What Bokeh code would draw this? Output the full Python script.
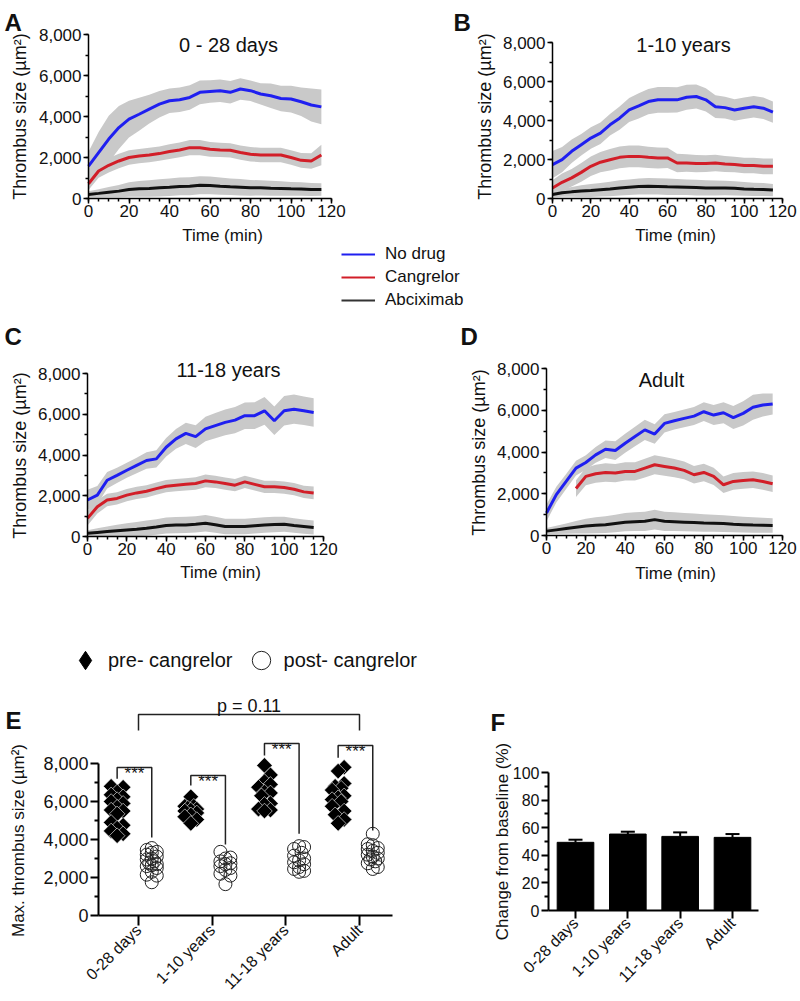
import numpy as np
from math import pi
from bokeh.plotting import figure
from bokeh.models import (Range1d, SingleIntervalTicker, FixedTicker, NumeralTickFormatter,
                          Label, Legend, LegendItem, Whisker, TeeHead, ColumnDataSource)
from bokeh.core.properties import value
from bokeh.layouts import row, column
from bokeh.embed import file_html
from bokeh.resources import INLINE

FONT = "Liberation Sans"
BLUE = "#1f1ff0"
RED = "#d21e28"
BLACK = "#111111"
BAND = "#c9c9c9"
TXT = "#111111"
nan = float("nan")

# ---------------- data: panels A-D (time courses, µm²) ----------------
time_min = [0, 5, 10, 15, 20, 25, 30, 35, 40, 45, 50, 55, 60, 65, 70, 75, 80, 85, 90, 95, 100, 105, 110, 115]
series_names = ["No drug", "Cangrelor", "Abciximab"]
panel_titles = ["0 - 28 days", "1-10 years", "11-18 years", "Adult"]

a_nodrug = [1580, 2240, 2900, 3460, 3870, 4110, 4360, 4600, 4770, 4820, 4930, 5180, 5220, 5260, 5180, 5340, 5260, 5100, 5010, 4880, 4850, 4720, 4560, 4470]
a_nodrug_sd = [700, 1000, 1140, 1050, 900, 800, 700, 650, 600, 600, 600, 580, 550, 550, 550, 520, 500, 520, 600, 620, 650, 700, 800, 850]
a_cang = [720, 1340, 1620, 1830, 2000, 2070, 2120, 2190, 2290, 2370, 2480, 2480, 2400, 2370, 2350, 2240, 2160, 2120, 2120, 2120, 2000, 1860, 1830, 2120]
a_cang_sd = [300, 330, 350, 350, 350, 350, 350, 350, 360, 360, 370, 370, 360, 350, 350, 350, 350, 350, 350, 350, 350, 360, 380, 500]
a_abci = [200, 250, 310, 360, 440, 470, 490, 520, 550, 590, 600, 650, 640, 600, 570, 550, 520, 520, 500, 490, 470, 460, 440, 440]
a_abci_sd = [150, 200, 250, 300, 350, 380, 400, 420, 430, 430, 440, 440, 430, 420, 400, 400, 380, 370, 360, 350, 340, 330, 320, 300]

b_nodrug = [1740, 1990, 2420, 2760, 3100, 3350, 3780, 4120, 4540, 4750, 4970, 5060, 5060, 5060, 5190, 5230, 5060, 4710, 4660, 4540, 4630, 4710, 4630, 4430]
b_nodrug_sd = [700, 650, 600, 550, 550, 550, 550, 600, 620, 650, 650, 660, 660, 650, 640, 620, 600, 580, 560, 550, 550, 550, 550, 550]
b_cang = [540, 830, 1060, 1340, 1650, 1860, 1990, 2110, 2160, 2160, 2110, 2080, 2080, 1820, 1820, 1790, 1790, 1820, 1770, 1740, 1690, 1690, 1650, 1650]
b_cang_sd = [400, 450, 450, 480, 500, 520, 550, 560, 560, 560, 550, 540, 520, 480, 450, 440, 430, 420, 410, 400, 400, 400, 400, 400]
b_abci = [200, 290, 340, 380, 410, 450, 490, 540, 580, 610, 630, 620, 600, 590, 580, 560, 540, 540, 540, 520, 490, 470, 460, 430]
b_abci_sd = [150, 200, 250, 300, 330, 350, 370, 390, 400, 410, 420, 420, 420, 410, 400, 400, 390, 380, 370, 360, 350, 340, 330, 320]

c_nodrug = [1790, 2030, 2760, 3000, 3250, 3490, 3730, 3810, 4380, 4790, 5060, 4900, 5280, 5440, 5600, 5710, 5930, 5930, 6170, 5680, 6170, 6250, 6170, 6090]
c_nodrug_sd = [500, 450, 400, 380, 370, 380, 400, 420, 450, 480, 520, 560, 600, 620, 630, 640, 650, 660, 680, 700, 720, 720, 700, 700]
c_cang = [890, 1460, 1790, 1870, 2030, 2140, 2220, 2350, 2470, 2520, 2560, 2600, 2730, 2680, 2600, 2520, 2680, 2560, 2440, 2440, 2400, 2320, 2190, 2140]
c_cang_sd = [350, 330, 310, 300, 300, 300, 300, 300, 300, 300, 300, 310, 310, 300, 300, 300, 300, 300, 300, 300, 300, 300, 300, 310]
c_abci = [160, 200, 240, 280, 320, 360, 410, 470, 540, 560, 570, 600, 650, 580, 490, 490, 490, 530, 570, 590, 600, 540, 490, 440]
c_abci_sd = [150, 200, 250, 300, 330, 350, 370, 380, 390, 400, 400, 400, 400, 390, 380, 380, 380, 380, 380, 380, 370, 360, 350, 340]

d_nodrug = [1080, 1960, 2590, 3230, 3500, 3860, 4130, 4070, 4420, 4740, 5060, 4860, 5370, 5500, 5610, 5720, 5930, 5770, 5880, 5650, 5850, 6140, 6250, 6300]
d_nodrug_sd = [400, 380, 360, 350, 350, 380, 420, 450, 460, 470, 480, 470, 440, 420, 420, 430, 450, 480, 500, 550, 580, 600, 550, 500]
d_cang = [nan, nan, nan, 2250, 2830, 2960, 3020, 2990, 3070, 3070, 3230, 3390, 3310, 3230, 3120, 2910, 3020, 2830, 2430, 2590, 2640, 2670, 2590, 2480]
d_cang_sd = [nan, nan, nan, 400, 420, 430, 440, 440, 440, 440, 450, 460, 450, 440, 430, 420, 420, 410, 400, 400, 400, 400, 400, 400]
d_abci = [210, 270, 330, 390, 450, 490, 520, 580, 640, 660, 680, 760, 680, 660, 640, 620, 600, 590, 570, 540, 520, 500, 490, 480]
d_abci_sd = [150, 200, 250, 300, 350, 380, 400, 420, 440, 450, 460, 470, 460, 450, 440, 430, 420, 410, 400, 390, 380, 370, 360, 350]

# ---------------- data: panel E ----------------
age_groups = ["0-28 days", "1-10 years", "11-18 years", "Adult"]
pre_cangrelor = [
    [6800, 6750, 6500, 6350, 6250, 6100, 6000, 5900, 5700, 5550, 5500, 5350, 4900, 4750, 4600, 4450, 4300, 4200],
    [6250, 5750, 5750, 5650, 5600, 5550, 5500, 5400, 5300, 5200, 5050, 4850],
    [7900, 7400, 7050, 6900, 6750, 6500, 6450, 6300, 5900, 5850, 5600, 5550, 5500],
    [7800, 7600, 6950, 6800, 6700, 6600, 6300, 6200, 6100, 6000, 5750, 5500, 5300, 5050, 4850],
]
post_cangrelor = [
    [3550, 3450, 3350, 3300, 3200, 3100, 3000, 2950, 2850, 2750, 2700, 2650, 2600, 2500, 2300, 2150, 2100, 1750],
    [3350, 3050, 3000, 2850, 2750, 2700, 2600, 2500, 2400, 2200, 2100, 1650],
    [3650, 3600, 3500, 3300, 3150, 3000, 2900, 2800, 2700, 2550, 2450, 2350, 2300],
    [4300, 3750, 3700, 3550, 3500, 3400, 3300, 3200, 3100, 3000, 2950, 2850, 2750, 2550, 2450],
]
sig_text = ["***", "***", "***", "***"]
sig_top = [7790, 7370, 9050, 8950]
sig_pre_end = [7200, 6840, 8420, 8300]
sig_post_end = [4100, 3740, 4300, 4470]
overall_text = "p = 0.11"
overall_top = 10580
overall_end = 9740

# ---------------- data: panel F ----------------
change_mean = [49.4, 55.4, 53.7, 53.0]
change_sem = [1.9, 1.7, 2.9, 2.4]


# ---------------- helpers ----------------
def frame_ranges(box, xmap, ymap):
    """box: canvas (left, top, right, bottom) in page px; xmap/ymap: (d0, p0, d1, p1)."""
    L, T, R, B = box
    d0, p0, d1, p1 = xmap
    kx = (d1 - d0) / (p1 - p0)
    e0, q0, e1, q1 = ymap
    ky = (e1 - e0) / (q1 - q0)
    return (Range1d(d0 + (L - p0) * kx, d0 + (R - p0) * kx),
            Range1d(e0 + (B - q0) * ky, e0 + (T - q0) * ky))


def make_fig(box, xmap, ymap):
    L, T, R, B = box
    xr, yr = frame_ranges(box, xmap, ymap)
    p = figure(width=R - L, height=B - T, x_range=xr, y_range=yr, min_border=0,
               output_backend="svg", toolbar_location=None)
    p.title.visible = False
    p.outline_line_color = None
    p.xgrid.visible = False
    p.ygrid.visible = False
    return p


def put_text(p, box, x, y, text, size, style="normal", align="left", baseline="alphabetic", angle=0.0):
    L, T, R, B = box
    p.add_layout(Label(x=x - L, y=B - y, x_units="screen", y_units="screen", text=text,
                       angle=angle, text_font=FONT, text_font_size=size, text_font_style=style,
                       text_align=align, text_baseline=baseline, text_color=TXT))


def style_axes(p, tick_px, lw):
    for ax in (p.xaxis[0], p.yaxis[0]):
        ax.axis_line_width = lw
        ax.axis_line_color = "black"
        ax.major_tick_line_width = lw
        ax.minor_tick_line_width = lw
        ax.major_tick_line_color = "black"
        ax.minor_tick_line_color = "black"
        ax.major_tick_in = 0
        ax.minor_tick_in = 0
        ax.major_tick_out = 5
        ax.minor_tick_out = 3
        ax.major_label_text_font = FONT
        ax.major_label_text_font_size = tick_px
        ax.major_label_text_color = TXT


def time_panel(box, xmap, ymap, series, title, title_xy, letter, letter_xy, ylab_xy, xlab_xy):
    p = make_fig(box, xmap, ymap)
    t = np.array(time_min, float)
    for mean, sd, color in series:
        m = np.array(mean, float)
        s = np.array(sd, float)
        ok = ~np.isnan(m)
        p.varea(x=t[ok], y1=np.maximum(m - s, 0)[ok], y2=(m + s)[ok], fill_color=BAND)
    for mean, sd, color in series:
        p.line(x=t, y=np.array(mean, float), line_color=color, line_width=3)
    style_axes(p, "17px", 1.5)
    xa, ya = p.xaxis[0], p.yaxis[0]
    xa.fixed_location = 0
    ya.fixed_location = 0
    xa.bounds = (0, 120)
    ya.bounds = (0, 8000)
    xa.ticker = SingleIntervalTicker(interval=20, num_minor_ticks=4)
    ya.ticker = SingleIntervalTicker(interval=2000, num_minor_ticks=2)
    ya.formatter = NumeralTickFormatter(format="0,0")
    xa.major_label_standoff = 1
    ya.major_label_standoff = 2
    put_text(p, box, title_xy[0], title_xy[1], title, "20px", align="center")
    put_text(p, box, letter_xy[0], letter_xy[1], letter, "24px", style="bold")
    put_text(p, box, ylab_xy[0], ylab_xy[1], "Thrombus size (µm²)", "18px",
             align="center", baseline="middle", angle=pi / 2)
    put_text(p, box, xlab_xy[0], xlab_xy[1], "Time (min)", "17px", align="center", baseline="middle")
    return p


BOX_A = (0, 0, 400, 244)
BOX_B = (400, 0, 798, 244)
BOX_L = (0, 244, 798, 312)
BOX_C = (0, 312, 400, 582)
BOX_D = (400, 312, 798, 582)
BOX_E = (0, 582, 440, 999)
BOX_F = (440, 582, 798, 999)

pA = time_panel(BOX_A, (0, 88, 120, 331), (0, 198, 8000, 34),
                [(a_nodrug, a_nodrug_sd, BLUE), (a_cang, a_cang_sd, RED), (a_abci, a_abci_sd, BLACK)],
                panel_titles[0], (228, 44), "A", (4, 22), (19, 116), (222, 235))
pB = time_panel(BOX_B, (0, 552, 120, 782), (0, 198, 8000, 42),
                [(b_nodrug, b_nodrug_sd, BLUE), (b_cang, b_cang_sd, RED), (b_abci, b_abci_sd, BLACK)],
                panel_titles[1], (683, 44), "B", (453, 22), (484, 116), (675, 235))
pC = time_panel(BOX_C, (0, 87, 120, 323), (0, 536, 8000, 373),
                [(c_nodrug, c_nodrug_sd, BLUE), (c_cang, c_cang_sd, RED), (c_abci, c_abci_sd, BLACK)],
                panel_titles[2], (228, 369), "C", (4, 336), (19, 455), (220, 572))
pD = time_panel(BOX_D, (0, 546, 120, 782), (0, 535, 8000, 368),
                [(d_nodrug, d_nodrug_sd, BLUE), (d_cang, d_cang_sd, RED), (d_abci, d_abci_sd, BLACK)],
                panel_titles[3], (661, 379), "D", (460, 336), (478, 452), (675, 573))

# ---------------- legend strip ----------------
lf = make_fig(BOX_L, (0, 0, 1, 798), (0, 312, 1, 244))
lf.xaxis.visible = False
lf.yaxis.visible = False
leg_items = []
for name, color in zip(series_names, [BLUE, RED, "#333333"]):
    r = lf.line(x=[nan], y=[nan], line_color=color, line_width=2)
    leg_items.append(LegendItem(label=name, renderers=[r]))
lf.add_layout(Legend(items=leg_items, location=(341, 2), orientation="vertical",
                     glyph_width=34, glyph_height=20, label_height=20, label_standoff=10,
                     spacing=3, padding=0, margin=0, border_line_alpha=0, background_fill_alpha=0,
                     label_text_font=FONT, label_text_font_size="17px", label_text_color=TXT))

# ---------------- panel E ----------------
E_XMAP = (1, 138, 4, 359)
E_YMAP = (0, 915, 8000, 763)
pE = make_fig(BOX_E, E_XMAP, E_YMAP)
E_PX_X = (359 - 138) / 3.0
E_PX_Y = (915 - 763) / 8000.0
E_X0 = 1 + (98 - 138) / E_PX_X
E_X1 = 1 + (392 - 138) / E_PX_X


def swarm(vals, diam=8.0, step=3.0, max_off=6.0):
    vals = np.asarray(vals, float)
    order = np.argsort(vals)
    cands = [0.0]
    j = 1
    while j * step <= max_off + 1e-9:
        cands += [j * step, -j * step]
        j += 1
    placed = []
    offs = np.zeros(len(vals))
    for i in order:
        ypx = vals[i] * E_PX_Y
        best, best_d = 0.0, -1.0
        for c in cands:
            d = min([np.hypot(c - qx, ypx - qy) for qx, qy in placed], default=1e9)
            if d >= diam:
                best = c
                break
            if d > best_d:
                best, best_d = c, d
        placed.append((best, ypx))
        offs[i] = best / E_PX_X
    return offs


PRE_OFF, POST_OFF = -0.29, 0.18
pre_x, pre_y, post_x, post_y = [], [], [], []
for gi in range(len(age_groups)):
    pre_x += list(gi + 1 + PRE_OFF + swarm(pre_cangrelor[gi], diam=9.0, step=3.0, max_off=6.0))
    pre_y += list(pre_cangrelor[gi])
    post_x += list(gi + 1 + POST_OFF + swarm(post_cangrelor[gi], diam=9.0, step=2.5, max_off=5.0))
    post_y += list(post_cangrelor[gi])

r_pre = pE.scatter(pre_x, pre_y, marker="square", angle=pi / 4, size=11,
                   fill_color="black", line_color="white", line_width=0.6)
r_post = pE.scatter(post_x, post_y, marker="circle", size=13, fill_alpha=0,
                    line_color="#222222", line_width=1)
r_pre_key = pE.scatter(x=[nan], y=[nan], marker="diamond", fill_color="black", line_color="black")

br_xs, br_ys, st_x, st_y = [], [], [], []
for gi in range(len(age_groups)):
    xl, xr = gi + 1 + PRE_OFF, gi + 1 + POST_OFF
    br_xs.append([xl, xl, xr, xr])
    br_ys.append([sig_pre_end[gi], sig_top[gi], sig_top[gi], sig_post_end[gi]])
    st_x.append((xl + xr) / 2)
    st_y.append(sig_top[gi])
br_xs.append([1, 1, 4, 4])
br_ys.append([overall_end, overall_top, overall_top, overall_end])
pE.multi_line(br_xs, br_ys, line_color="#222222", line_width=1.5)
pE.text(st_x, st_y, text=sig_text, text_font=value(FONT), text_font_size="17px",
        text_align="center", text_baseline="alphabetic", y_offset=6, text_color=TXT)
pE.add_layout(Label(x=2.5, y=overall_top, text=overall_text, text_font=FONT, text_font_size="18px",
                    text_align="center", text_baseline="alphabetic", y_offset=8, text_color=TXT))

style_axes(pE, "18px", 2)
exa, eya = pE.xaxis[0], pE.yaxis[0]
exa.fixed_location = 0
eya.fixed_location = E_X0
exa.bounds = (E_X0, E_X1)
eya.bounds = (0, 8000)
exa.ticker = FixedTicker(ticks=[1, 2, 3, 4], minor_ticks=[])
exa.major_label_overrides = {i + 1: g for i, g in enumerate(age_groups)}
exa.major_label_orientation = pi / 4
exa.major_label_text_font_size = "16px"
exa.major_tick_out = 10
exa.major_label_standoff = 2
eya.ticker = FixedTicker(ticks=[0, 2000, 4000, 6000, 8000], minor_ticks=[1000, 3000, 5000, 7000])
eya.formatter = NumeralTickFormatter(format="0,0")
eya.major_tick_out = 8
eya.minor_tick_out = 4
eya.major_label_standoff = 2
put_text(pE, BOX_E, 18, 840, "Max. thrombus size (µm²)", "17px", align="center",
         baseline="middle", angle=pi / 2)
put_text(pE, BOX_E, 5, 720, "E", "24px", style="bold")
pE.add_layout(Legend(items=[LegendItem(label="pre- cangrelor", renderers=[r_pre_key]),
                            LegendItem(label="post- cangrelor", renderers=[r_post])],
                     location=(62, 999 - 683), orientation="horizontal",
                     glyph_width=46, glyph_height=46, label_standoff=-3, spacing=5,
                     padding=0, margin=0, border_line_alpha=0, background_fill_alpha=0,
                     label_text_font=FONT, label_text_font_size="20px", label_text_color=TXT))

# ---------------- panel F ----------------
F_XMAP = (1, 575, 4, 732)
F_YMAP = (0, 910, 100, 772)
pF = make_fig(BOX_F, F_XMAP, F_YMAP)
F_PX_X = (732 - 575) / 3.0
F_X0 = 1 + (548 - 575) / F_PX_X
F_X1 = 1 + (758 - 575) / F_PX_X
fx = [1, 2, 3, 4]
fsrc = ColumnDataSource(dict(x=fx, top=change_mean,
                             upper=[m + s for m, s in zip(change_mean, change_sem)]))
pF.vbar(x="x", top="top", width=0.7, source=fsrc, fill_color="black", line_color="black")
pF.add_layout(Whisker(source=fsrc, base="x", upper="upper", lower="top", dimension="height",
                      line_color="black", line_width=2, lower_head=None,
                      upper_head=TeeHead(size=14, line_width=2, line_color="black")))
style_axes(pF, "16px", 2)
fxa, fya = pF.xaxis[0], pF.yaxis[0]
fxa.fixed_location = 0
fya.fixed_location = F_X0
fxa.bounds = (F_X0, F_X1)
fya.bounds = (0, 100)
fxa.ticker = FixedTicker(ticks=fx, minor_ticks=[])
fxa.major_label_overrides = {i + 1: g for i, g in enumerate(age_groups)}
fxa.major_label_orientation = pi / 4
fxa.major_label_text_font_size = "16px"
fxa.major_tick_out = 8
fxa.major_label_standoff = 2
fya.ticker = FixedTicker(ticks=[0, 20, 40, 60, 80, 100], minor_ticks=[10, 30, 50, 70, 90])
fya.major_tick_out = 7
fya.minor_tick_out = 4
fya.major_label_standoff = 2
put_text(pF, BOX_F, 502, 841, "Change from baseline (%)", "17px", align="center",
         baseline="middle", angle=pi / 2)
put_text(pF, BOX_F, 490, 722, "F", "24px", style="bold")

layout = column(row(pA, pB, spacing=0), lf, row(pC, pD, spacing=0), row(pE, pF, spacing=0), spacing=0)
open("out.html", "w").write(file_html(layout, INLINE))
